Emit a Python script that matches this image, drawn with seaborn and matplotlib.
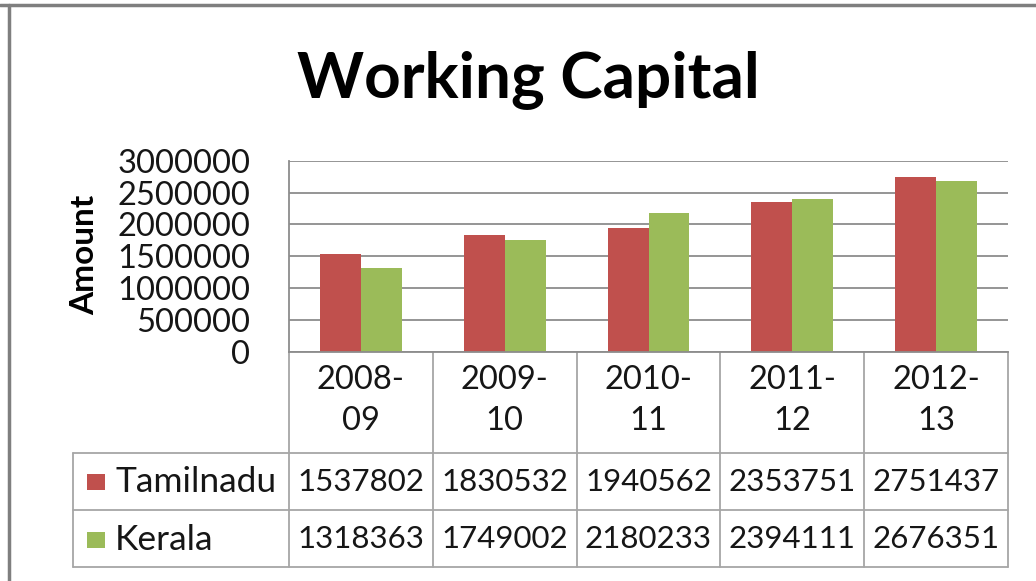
import matplotlib
matplotlib.use("Agg")
import matplotlib.pyplot as plt
import matplotlib.transforms as mtransforms
from matplotlib.lines import Line2D
from matplotlib.patches import Rectangle
import pandas as pd
import seaborn as sns

# Working capital by financial year
years = ["2008-09", "2009-10", "2010-11", "2011-12", "2012-13"]
tamilnadu = [1537802, 1830532, 1940562, 2353751, 2751437]
kerala = [1318363, 1749002, 2180233, 2394111, 2676351]
states = ["Tamilnadu", "Kerala"]
y_ticks = [0, 500000, 1000000, 1500000, 2000000, 2500000, 3000000]

RED = "#C0504D"
GREEN = "#9BBB59"
GRID = "#8C8C8C"
TABLE = "#A6A6A6"
TEXT = "#161616"

sns.set_style("white")
plt.rcParams["font.family"] = ["Lato", "DejaVu Sans"]

W, H = 1036, 581
fig = plt.figure(figsize=(W / 100, H / 100), dpi=100)


def fx(px):
    return px / W


def fy(py):
    return 1 - py / H


# plot area
left, right, top, bottom = 289, 1008, 160.7, 352
ax = fig.add_axes([fx(left), fy(bottom), fx(right - left), (bottom - top) / H])

df = pd.DataFrame({
    "Year": years * 2,
    "Amount": tamilnadu + kerala,
    "State": [states[0]] * len(years) + [states[1]] * len(years),
})
sns.barplot(data=df, x="Year", y="Amount", hue="State", order=years,
            hue_order=states, palette=[RED, GREEN], width=0.57,
            saturation=1, linewidth=0, legend=False, ax=ax)

ax.set_xlim(-0.5, len(years) - 0.5)
ax.set_ylim(0, 3000000)
ax.set_yticks(y_ticks)
ax.set_yticklabels([str(v) for v in y_ticks], fontsize=23.5, color=TEXT)
ax.tick_params(axis="y", length=0, pad=28)
ax.set_xticks([])
ax.set_xlabel("")
ax.set_ylabel("")
ax.yaxis.grid(True, color=GRID, linewidth=1.3)
ax.set_axisbelow(True)
for side in ("top", "right"):
    ax.spines[side].set_visible(False)
for side in ("left", "bottom"):
    ax.spines[side].set_color(GRID)
    ax.spines[side].set_linewidth(1.3)

# data table beneath the axis
blend = mtransforms.blended_transform_factory(ax.transData, fig.transFigure)
row_lines = [453, 510, 567]
table_left = 73

for i in range(len(years) + 1):
    ax.add_line(Line2D([i - 0.5, i - 0.5], [fy(bottom), fy(row_lines[-1])],
                       transform=blend, color=TABLE, lw=1.3, clip_on=False))
for ry in row_lines:
    fig.add_artist(Line2D([fx(table_left), fx(right)], [fy(ry), fy(ry)],
                          color=TABLE, lw=1.3))
fig.add_artist(Line2D([fx(table_left), fx(table_left)],
                      [fy(row_lines[0]), fy(row_lines[-1])], color=TABLE, lw=1.3))

for i, yr in enumerate(years):
    head, tail = yr.split("-")
    ax.text(i, fy(380), head + "-", transform=blend, ha="center", va="center",
            fontsize=23.5, color=TEXT, clip_on=False)
    ax.text(i, fy(421), tail, transform=blend, ha="center", va="center",
            fontsize=23.5, color=TEXT, clip_on=False)

rows = [(states[0], tamilnadu, RED, 482), (states[1], kerala, GREEN, 539.5)]
for name, vals, col, cy in rows:
    for i, v in enumerate(vals):
        ax.text(i, fy(cy), str(v), transform=blend, ha="center", va="center",
                fontsize=22.5, color=TEXT, clip_on=False)
    fig.add_artist(Rectangle((fx(87), fy(cy + 8)), fx(18), 16 / H,
                             color=col, lw=0))
    fig.text(fx(115), fy(cy), name, ha="left", va="center",
             fontsize=25.5, color=TEXT)

# title and axis label
fig.text(fx(528), fy(97), "Working Capital", ha="center", va="baseline",
         fontsize=46, fontweight="bold", color="black")
fig.text(fx(85), fy(255), "Amount", ha="center", va="center", rotation=90,
         fontsize=24, fontweight="bold", color="black")

# outer chart frame
fig.add_artist(Line2D([0, 1], [fy(5), fy(5)], color="#7F7F7F", lw=2.5))
fig.add_artist(Line2D([fx(8.5), fx(8.5)], [0, fy(5)], color="#7F7F7F", lw=2.5))

fig.savefig("out.png", dpi=100, facecolor="white")
